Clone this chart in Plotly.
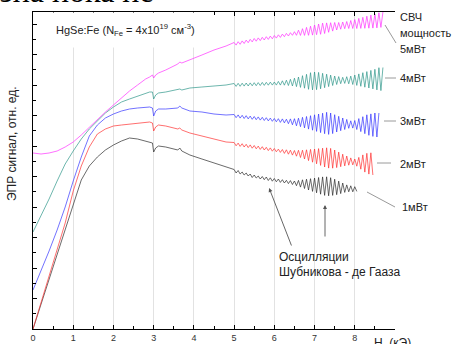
import plotly.graph_objects as go

# ---------------- data (magnetic field H in kOe, EPR signal in arb. units) -------------
H_LOW = [0, 0.2, 0.4, 0.6, 0.8, 1.0, 1.2, 1.4, 1.6, 1.8, 2.0, 2.2, 2.4, 2.6, 2.8, 2.9,
         2.97, 3.0, 3.05, 3.12, 3.3, 3.6, 3.65, 3.7, 3.9, 4.2, 4.5, 4.8]

H_OSC = [5.00, 5.05, 5.10, 5.15, 5.20, 5.25, 5.30, 5.35, 5.40, 5.45,
         5.50, 5.55, 5.60, 5.65, 5.70, 5.75, 5.80, 5.85, 5.90, 5.95,
         6.00, 6.05, 6.10, 6.15, 6.20, 6.25, 6.30, 6.35, 6.40, 6.45,
         6.50, 6.55, 6.60, 6.65, 6.70, 6.75, 6.80, 6.85, 6.90, 6.95,
         7.00, 7.05, 7.10, 7.15, 7.20, 7.25, 7.30, 7.35, 7.40, 7.45,
         7.50, 7.55, 7.60, 7.65, 7.70, 7.75, 7.80, 7.85, 7.90, 7.95,
         8.00, 8.05, 8.10, 8.15, 8.20, 8.25, 8.30, 8.35, 8.40, 8.45,
         8.50, 8.55, 8.60, 8.65, 8.70]

SIG_1MW_LOW = [0, 25, 49, 74, 99, 126, 149, 163, 172, 179, 184, 188, 191, 190, 188, 187,
               186, 177, 181, 183, 182, 179, 181, 178, 174, 170, 166, 162]
SIG_1MW_OSC = [159.5, 156, 158.5, 155, 157, 154, 156, 153, 155, 151.5,
               154, 151, 153, 150, 152.5, 149.3, 152, 148.5, 151.2, 147.8,
               150.5, 147.2, 150, 146.6, 149.3, 146, 148.7, 145.4, 148.4, 144.5,
               148, 143.3, 148.6, 141.9, 149.2, 140.5, 149.8, 139, 150.3, 137.6,
               150.9, 136.2, 151.5, 134.8, 152.1, 133.6, 152.2, 133.2, 151.3, 133.6,
               149.8, 134.3, 147.9, 135.4, 146, 136.6, 144.1, 137.2, 143.2, 137.2,
               142.3, 137.6]

SIG_2MW_LOW = [0, 27, 53, 79, 106, 138, 163, 182, 195, 200, 203, 204, 205, 206, 207, 207,
               206, 198, 202, 204, 203, 200, 201, 199, 196, 193, 190, 187]
SIG_2MW_OSC = [186.5, 183.2, 185.9, 182.6, 185.3, 182, 184.7, 181.4, 184.1, 180.8,
               183.5, 180.2, 182.9, 179.6, 182.3, 179, 181.7, 178.4, 181.1, 177.8,
               180.5, 177.2, 179.9, 176.6, 179.5, 175.6, 179.2, 174.8, 178.8, 173.9,
               178.5, 172.8, 178.7, 171.5, 178.8, 170, 179.2, 168.4, 179.6, 166.8,
               180, 165.2, 180.4, 163.6, 180.8, 162, 181.2, 160.9, 180.6, 160.8,
               179, 161.4, 176.9, 162.3, 174.8, 163.1, 173, 163.8, 171.1, 164.1,
               170, 162.8, 171.6, 159.8, 174.1, 156.9, 175.7, 154.9, 176.2, 154]

SIG_3MW_LOW = [39, 58, 78, 99, 122, 148, 172, 193, 204, 211, 215, 218, 220, 221, 222, 222,
               221, 213, 218, 220, 220, 221, 223, 221, 218, 217, 215, 214]
SIG_3MW_OSC = [214.5, 211.3, 214.1, 210.9, 213.7, 210.5, 213.3, 210.1, 212.9, 209.7,
               212.5, 209.3, 212.1, 208.9, 211.7, 208.5, 211.3, 208.1, 210.9, 207.7,
               210.5, 207.2, 210.3, 206.6, 210.1, 206.1, 209.8, 205.3, 210.1, 204.2,
               210.3, 203.2, 210.8, 202.3, 211.7, 201.1, 212.5, 199.9, 213.3, 198.8,
               214.2, 197.6, 215, 196.4, 215.8, 195.3, 216.7, 194.6, 216, 195.4,
               214.3, 197, 212.7, 198.3, 211, 199.5, 209.6, 200.7, 208.2, 200.9,
               208.5, 199.5, 210.4, 197.4, 212.3, 195.3, 214.2, 193.7, 215.1, 192.6,
               216, 192, 216]

SIG_4MW_LOW = [97, 113, 130, 148, 165, 178, 190, 200, 208, 216, 222, 227, 230, 233, 236, 237,
               237, 230, 234, 236, 237, 239, 240, 239, 241, 242, 243, 244]
SIG_4MW_OSC = [245.5, 242.6, 245.7, 242.7, 245.8, 242.9, 246, 243, 246.1, 243.2,
               246.3, 243.3, 246.4, 243.5, 246.6, 243.6, 246.7, 243.8, 246.9, 243.9,
               247, 243.9, 247.6, 243.9, 248.2, 243.8, 248.8, 243.5, 249.7, 243,
               250.8, 242.4, 252, 241.6, 253.3, 240.8, 254.7, 239.7, 256.3, 239.1,
               257, 239.3, 256.6, 240.2, 255.7, 241.3, 254.8, 242.4, 253.9, 243.5,
               253, 244.5, 252.4, 245.3, 251.7, 245.6, 252.3, 245.2, 252.9, 244.5,
               254, 243.6, 255.1, 242.7, 256.3, 241.8, 257.4, 241, 258.6, 240.1,
               259.7, 239.1, 261.3, 238.4, 261.5]

SIG_5MW_LOW = [176, 175, 176, 178, 182, 187, 194, 202, 210, 217, 224, 231, 238, 244, 250, 252,
               254, 251, 254, 256, 259, 265, 267, 266, 269, 274, 279, 283]
SIG_5MW_OSC = [286.5, 283.9, 287.3, 284.7, 288.1, 285.5, 288.9, 286.3, 289.7, 287.1,
               290.5, 287.8, 291.1, 288.4, 291.7, 289, 292.3, 289.6, 292.9, 290.2,
               293.5, 290.9, 294.2, 291.6, 294.9, 292.3, 295.6, 293, 296.3, 293.7,
               297.3, 293.7, 298.8, 293.6, 300.3, 293.6, 301.6, 293.7, 302.8, 293.9,
               304, 294.3, 305, 294.7, 305.9, 295.5, 306.1, 296.7, 306.3, 297.9,
               306.5, 299, 306.5, 299.8, 307, 300.3, 307.5, 300.5, 308.5, 300.5,
               309.5, 300.5, 310.6, 300.6, 311.7, 300.7, 312.8, 300.8, 313.9, 300.9,
               315, 301.1, 316.3, 301.6, 317]

SERIES_NAMES = ["1мВт", "2мВт", "3мВт", "4мВт", "5мВт"]
SERIES_LOW = [SIG_1MW_LOW, SIG_2MW_LOW, SIG_3MW_LOW, SIG_4MW_LOW, SIG_5MW_LOW]
SERIES_OSC = [SIG_1MW_OSC, SIG_2MW_OSC, SIG_3MW_OSC, SIG_4MW_OSC, SIG_5MW_OSC]
SERIES_COLORS = ["#2b2b2b", "#ff3030", "#3535ff", "#2e978a", "#ff30ff"]

X_TICKS = [0, 1, 2, 3, 4, 5, 6, 7, 8]

# ---------------- figure ----------------
W, H = 454, 344
ML, MR, MT, MB = 33, 59, 12, 15
PW, PH = W - ML - MR, H - MT - MB


def px(xp):
    return (xp - ML) / PW


def py(yp):
    return (H - MB - yp) / PH


FONT = "Arial, Liberation Sans, sans-serif"

fig = go.Figure()
for name, low, osc, col in zip(SERIES_NAMES, SERIES_LOW, SERIES_OSC, SERIES_COLORS):
    fig.add_trace(go.Scatter(
        x=H_LOW + H_OSC[:len(osc)], y=low + osc, mode="lines", name=name,
        line=dict(color=col, width=0.7), showlegend=False, hoverinfo="skip"))

fig.update_layout(
    width=W, height=H, margin=dict(l=ML, r=MR, t=MT, b=MB, pad=0, autoexpand=False),
    paper_bgcolor="white", plot_bgcolor="white", showlegend=False,
    font=dict(family=FONT, color="#222"),
    xaxis=dict(range=[0, 9], showline=True, linecolor="black", linewidth=1, automargin=False,
               mirror="ticks", ticks="inside", ticklen=4, tickwidth=1, tickcolor="black",
               tickvals=X_TICKS, ticktext=[str(v) for v in X_TICKS],
               tickfont=dict(size=9, color="#333"),
               showgrid=True, gridcolor="#e2e2e2", gridwidth=1, zeroline=False,
               minor=dict(ticks="inside", ticklen=3, dtick=0.5, tickcolor="black",
                          showgrid=False)),
    yaxis=dict(range=[0, PH], showline=True, linecolor="black", linewidth=1, automargin=False,
               ticks="inside", ticklen=4, tickwidth=1, tickcolor="black",
               tick0=0, dtick=30.5, showticklabels=False, showgrid=False, zeroline=False,
               minor=dict(ticks="inside", ticklen=3, dtick=15.25, tickcolor="black")),
)

ann = []
# clipped line of page text above the chart
ann.append(dict(text="зиа пока не", x=px(-2), y=py(11), xref="paper", yref="paper",
                xanchor="left", yanchor="bottom", showarrow=False,
                font=dict(family="Liberation Serif, Times New Roman, serif", size=32, color="black")))
# sample label
ann.append(dict(text="HgSe:Fe (N<sub>Fe</sub> = 4x10<sup>19</sup> см<sup>-3</sup>)",
                x=px(46), y=py(30), xref="paper", yref="paper", xanchor="left", yanchor="middle",
                showarrow=False, bgcolor="white", borderpad=9, font=dict(size=11, color="#222")))
# power labels
for txt, xx, yy in [("СВЧ", 398, 17), ("мощность", 398, 33), ("5мВт", 398, 49),
                    ("4мВт", 398, 78), ("3мВт", 398, 121), ("2мВт", 398, 164),
                    ("1мВт", 400, 207)]:
    ann.append(dict(text=txt, x=px(xx), y=py(yy), xref="paper", yref="paper",
                    xanchor="left", yanchor="middle", showarrow=False,
                    font=dict(size=11, color="#222")))
# oscillation label
ann.append(dict(text="Осцилляции", x=px(277), y=py(257), xref="paper", yref="paper",
                xanchor="left", yanchor="middle", showarrow=False, font=dict(size=12, color="#222")))
ann.append(dict(text="Шубникова - де Гааза", x=px(277), y=py(272), xref="paper", yref="paper",
                xanchor="left", yanchor="middle", showarrow=False, font=dict(size=12, color="#222")))
# arrows
for hx, hy, tx, ty in [(5.87, 141, 6.44, 82), (7.26, 124, 7.26, 91)]:
    ann.append(dict(text="", x=hx, y=hy, ax=tx, ay=ty, xref="x", yref="y", axref="x", ayref="y",
                    showarrow=True, arrowhead=2, arrowsize=0.9, arrowwidth=0.9,
                    arrowcolor="#555", standoff=0))
# axis titles
ann.append(dict(text="ЭПР сигнал, отн. ед.", x=px(12), y=py(144), xref="paper", yref="paper",
                xanchor="center", yanchor="middle", textangle=-90, showarrow=False,
                font=dict(size=12, color="#222")))
ann.append(dict(text="H, (кЭ)", x=px(372), y=py(334), xref="paper", yref="paper",
                xanchor="left", yanchor="top", showarrow=False, font=dict(size=12, color="#222")))
fig.update_layout(annotations=ann)

# leader lines from curves to power labels
for x0, y0, x1, y1 in [(385, 25, 396, 43), (385, 78, 396, 78), (384, 121, 396, 121),
                       (377, 163, 391, 163), (367, 192, 395, 207)]:
    fig.add_shape(type="line", xref="paper", yref="paper", x0=px(x0), y0=py(y0),
                  x1=px(x1), y1=py(y1), line=dict(color="#9a9a9a", width=1))

fig.write_html("out.html")
